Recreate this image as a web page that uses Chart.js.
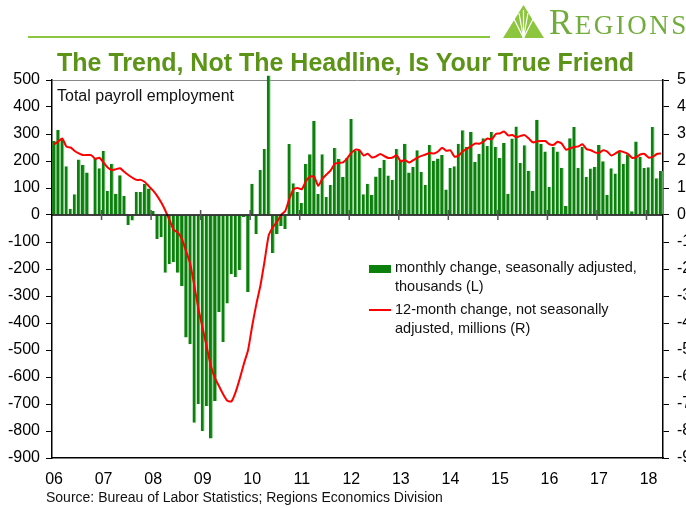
<!DOCTYPE html>
<html>
<head>
<meta charset="utf-8">
<script src="https://cdn.jsdelivr.net/npm/chart.js@4.4.1/dist/chart.umd.min.js"></script>
<style>
  html, body { margin: 0; padding: 0; overflow: hidden; background: #fff; width: 686px; height: 508px; }
  body { position: relative; font-family: "Liberation Sans", Arial, sans-serif; color: #111; }
  #wrap { position: absolute; left: 0; top: 0; width: 700px; height: 508px; }
  .abs { position: absolute; white-space: nowrap; }
  #rule { left: 28px; top: 36px; width: 462px; height: 2px; background: #8cc63f; }
  #title { left: 57px; top: 48px; font-size: 25px; line-height: 28px; font-weight: bold; color: #5c9418; }
  #logo { left: 503px; top: 5px; }
  #brand { left: 549px; top: 6px; font-family: "Liberation Serif", serif; font-size: 27px; line-height: 34px; color: #72ad3c; letter-spacing: 2.5px; }
  #brand .big { font-size: 35px; }
  #subtitle { left: 57px; top: 86px; font-size: 16px; line-height: 19px; }
  #source { left: 46px; top: 489px; font-size: 14px; line-height: 17px; }
  .legend-text { font-size: 14.5px; line-height: 19px; left: 395px; }
  #leg-box { left: 369px; top: 265px; width: 22px; height: 8px; background: #0c800c; }
  #leg-line { left: 369px; top: 309px; width: 22px; height: 2px; background: #ff0000; }
</style>
</head>
<body>
<div id="wrap"><canvas id="chart"></canvas></div>

<div class="abs" id="rule"></div>
<svg class="abs" id="logo" width="41" height="33" viewBox="0 0 41 33">
  <polygon points="20.5,0 41,33 0,33" fill="#8cc63f"/>
  <g stroke="#fff" stroke-width="1.2">
    <line x1="20.5" y1="33" x2="11" y2="14"/>
    <line x1="20.5" y1="33" x2="16" y2="8"/>
    <line x1="20.5" y1="33" x2="20.5" y2="5"/>
    <line x1="20.5" y1="33" x2="25" y2="8"/>
    <line x1="20.5" y1="33" x2="30" y2="14"/>
  </g>
</svg>
<div class="abs" id="brand"><span class="big">R</span>EGIONS</div>
<div class="abs" id="title">The Trend, Not The Headline, Is Your True Friend</div>
<div class="abs" id="subtitle">Total payroll employment</div>

<div class="abs" id="leg-box"></div>
<div class="abs legend-text" style="top:258px">monthly change, seasonally adjusted,<br>thousands (L)</div>
<div class="abs" id="leg-line"></div>
<div class="abs legend-text" style="top:300px">12-month change, not seasonally<br>adjusted, millions (R)</div>

<div class="abs" id="source">Source: Bureau of Labor Statistics; Regions Economics Division</div>

<script>
const yearLabels = ["06", "07", "08", "09", "10", "11", "12", "13", "14", "15", "16", "17", "18"];
const monthsIn2018 = 4;

// monthly change, seasonally adjusted, thousands (left axis)
const monthlyChange = [
  274, 315, 280, 181, 23, 77, 206, 185, 157, 2, 212, 173,
  237, 89, 190, 79, 147, 70, -37, -20, 86, 85, 116, 98,
  15, -89, -82, -214, -182, -174, -214, -263, -454, -479, -769, -701,
  -800, -707, -828, -689, -359, -470, -328, -219, -230, -204, -7, -285,
  116, -70, 167, 244, 517, -141, -70, -41, -52, 263, 118, 85,
  44, 189, 225, 348, 78, 225, 67, 111, 248, 207, 141, 211,
  356, 237, 237, 77, 116, 74, 143, 175, 204, 146, 131, 244,
  206, 264, 157, 179, 240, 159, 111, 259, 201, 209, 222, 94,
  174, 181, 264, 314, 252, 307, 196, 227, 284, 256, 307, 252,
  211, 267, 79, 283, 328, 193, 258, 164, 89, 353, 264, 235,
  104, 253, 235, 175, 33, 284, 326, 175, 252, 141, 172, 178,
  259, 199, 74, 173, 154, 237, 190, 225, 14, 272, 215, 174,
  177, 326, 136, 163
];

// 12-month change, not seasonally adjusted, millions (right axis)
const yearOverYear = [
  2.62, 2.72, 2.83, 2.53, 2.50, 2.37, 2.28, 2.22, 2.22, 2.22, 2.08, 2.12,
  1.94, 1.76, 1.66, 1.70, 1.73, 1.60, 1.48, 1.38, 1.30, 1.30, 1.22, 1.06,
  0.90, 0.70, 0.45, 0.15, -0.20, -0.55, -0.65, -0.90, -1.35, -1.82, -2.65, -3.50,
  -4.20, -4.90, -5.60, -6.05, -6.35, -6.65, -6.88, -6.90, -6.55, -6.05, -5.50, -5.00,
  -4.10, -3.30, -2.60, -1.70, -0.75, -0.45, -0.25, 0.00, 0.15, 0.60, 0.95, 1.00,
  0.95, 1.25, 1.42, 1.42, 1.08, 1.35, 1.50, 1.65, 1.90, 1.93, 1.95, 2.10,
  2.30, 2.42, 2.40, 2.20, 2.27, 2.13, 2.17, 2.26, 2.18, 2.11, 2.13, 2.21,
  1.98, 2.04, 1.94, 2.03, 2.12, 2.19, 2.24, 2.30, 2.28, 2.35, 2.49, 2.38,
  2.40, 2.16, 2.20, 2.36, 2.45, 2.55, 2.65, 2.64, 2.72, 2.83, 2.80, 3.00,
  3.02, 3.09, 2.95, 2.96, 2.88, 2.93, 2.96, 2.83, 2.69, 2.73, 2.74, 2.74,
  2.62, 2.60, 2.71, 2.64, 2.42, 2.47, 2.52, 2.54, 2.62, 2.44, 2.40, 2.32,
  2.30, 2.40, 2.35, 2.20, 2.28, 2.37, 2.33, 2.27, 2.12, 2.14, 2.24, 2.26,
  2.13, 2.15, 2.26, 2.28
];

const categories = [];
yearLabels.forEach((yr, k) => {
  const n = k === yearLabels.length - 1 ? monthsIn2018 : 12;
  for (let m = 1; m <= n; m++) categories.push(yr + "-" + String(m).padStart(2, "0"));
});

// zero line plus the small year marks that sit on it
const zeroLine = {
  id: "zeroLine",
  afterDatasetsDraw(chart) {
    const { ctx, chartArea, scales: { x, y } } = chart;
    const zeroY = y.getPixelForValue(0);
    ctx.save();
    ctx.strokeStyle = "#000";
    ctx.lineWidth = 1.5;
    ctx.beginPath();
    ctx.moveTo(chartArea.left, zeroY);
    ctx.lineTo(chartArea.right, zeroY);
    ctx.stroke();
    ctx.strokeStyle = "#555";
    for (let i = 12; i < categories.length; i += 12) {
      const px = (x.getPixelForValue(i - 1) + x.getPixelForValue(i)) / 2;
      ctx.beginPath();
      ctx.moveTo(px, zeroY - 5);
      ctx.lineTo(px, zeroY + 5);
      ctx.stroke();
    }
    ctx.restore();
  },
};

Chart.defaults.font.family = "'Liberation Sans', Arial, sans-serif";
Chart.defaults.color = "#000";

new Chart(document.getElementById("chart"), {
  data: {
    labels: categories,
    datasets: [
      {
        type: "line",
        data: yearOverYear,
        yAxisID: "y1",
        borderColor: "#ff0000",
        borderWidth: 2,
        pointRadius: 0,
        tension: 0.2,
        order: 1,
      },
      {
        type: "bar",
        data: monthlyChange,
        yAxisID: "y",
        backgroundColor: "#0c800c",
        borderColor: "#8cc98c",
        borderWidth: { right: 1, left: 0, top: 0, bottom: 0 },
        borderSkipped: false,
        barPercentage: 0.95,
        categoryPercentage: 1,
        clip: false,
        order: 2,
      },
    ],
  },
  options: {
    responsive: true,
    maintainAspectRatio: false,
    animation: false,
    events: [],
    layout: { padding: { top: 80, left: 0, right: 0, bottom: 0 } },
    plugins: { legend: { display: false }, tooltip: { enabled: false } },
    scales: {
      x: {
        type: "category",
        grid: { display: false, drawTicks: false },
        border: { display: true, color: "#000", width: 1.5 },
        ticks: {
          autoSkip: false,
          maxRotation: 0,
          padding: 12,
          font: { size: 16 },
          callback: (val, idx) => (idx % 12 === 0 ? yearLabels[idx / 12] : ""),
        },
        afterFit: (scale) => { scale.height = 50; },
      },
      y: {
        position: "left",
        min: -900,
        max: 500,
        grid: {
          drawOnChartArea: true,
          color: (c) => (c.tick && c.tick.value === 500 ? "#888" : "rgba(0,0,0,0)"),
          tickColor: "#000",
          tickLength: 6,
        },
        border: { display: true, color: "#000", width: 1.5 },
        ticks: { stepSize: 100, padding: 6, font: { size: 16 } },
        afterFit: (scale) => { scale.width = 52; },
      },
      y1: {
        position: "right",
        min: -9,
        max: 5,
        grid: { drawOnChartArea: false, tickColor: "#000", tickLength: 6 },
        border: { display: true, color: "#000", width: 1.5 },
        ticks: { stepSize: 1, padding: 8, font: { size: 16 } },
        afterFit: (scale) => { scale.width = 37; },
      },
    },
  },
  plugins: [zeroLine],
});
</script>
</body>
</html>
